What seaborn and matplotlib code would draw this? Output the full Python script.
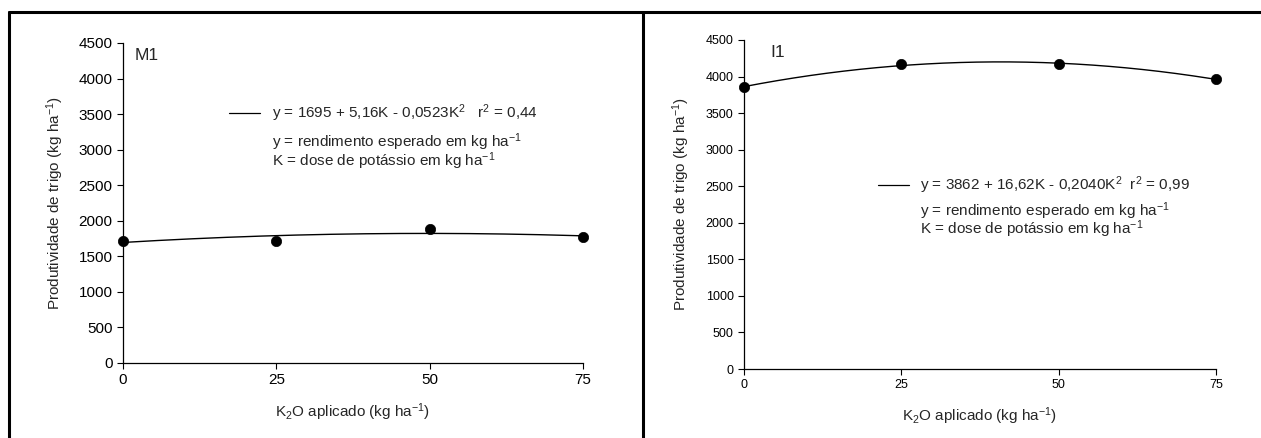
import numpy as np
import pandas as pd
import seaborn as sns
import matplotlib
matplotlib.use("Agg")
import matplotlib.pyplot as plt
from matplotlib.lines import Line2D

# ---- data ----
doses = [0, 25, 50, 75]
yield_m1 = [1720, 1720, 1890, 1770]
yield_i1 = [3860, 4170, 4165, 3970]
coef_m1 = [1695, 5.16, -0.0523]   # y = a + bK + cK^2
coef_i1 = [3862, 16.62, -0.2040]
yticks = [0, 500, 1000, 1500, 2000, 2500, 3000, 3500, 4000, 4500]
xticks = [0, 25, 50, 75]

sns.set_style("ticks")
plt.rcParams['font.family'] = ['Liberation Sans', 'DejaVu Sans']
plt.rcParams['mathtext.fontset'] = 'custom'
plt.rcParams['mathtext.rm'] = 'Liberation Sans'
plt.rcParams['mathtext.it'] = 'Liberation Sans'
plt.rcParams['mathtext.default'] = 'regular'

W, H = 1261, 438
fig = plt.figure(figsize=(W / 100, H / 100), dpi=100)

def px_axes(x0, x1, ytop, ybot):
    return fig.add_axes([x0 / W, 1 - ybot / H, (x1 - x0) / W, (ybot - ytop) / H])

ax1 = px_axes(123, 583, 43, 363)
ax2 = px_axes(744, 1216, 40, 369)

panels = [
    (ax1, yield_m1, coef_m1, "M1", 11, 11,
     "y = 1695 + 5,16K - 0,0523K$^2$   r$^2$ = 0,44",
     (0.230, 0.298), 0.324, [0.781, 0.661], (0.026, 0.9625), 10, 9),
    (ax2, yield_i1, coef_i1, "I1", 9, 11,
     "y = 3862 + 16,62K - 0,2040K$^2$  r$^2$ = 0,99",
     (0.284, 0.350), 0.373, [0.559, 0.453], (0.055, 0.9635), 10, 10),
]

for ax, ys, coef, lab, tfs, lfs, eq, lx, tx, tys, labpos, xlp, ylp in panels:
    df = pd.DataFrame({"K": doses, "Y": ys})
    kk = np.linspace(0, 75, 200)
    fit = pd.DataFrame({"K": kk, "Y": coef[0] + coef[1] * kk + coef[2] * kk ** 2})
    sns.lineplot(data=fit, x="K", y="Y", ax=ax, color="black", lw=1.0)
    sns.scatterplot(data=df, x="K", y="Y", ax=ax, color="black", s=55,
                    edgecolor="black", linewidth=0.5, zorder=5, clip_on=False)
    ax.set_xlim(0, 75)
    ax.set_ylim(0, 4500)
    ax.set_xticks(xticks)
    ax.set_yticks(yticks)
    ax.tick_params(labelsize=tfs, length=4, width=0.8, direction="out", colors="black")
    for s in ["top", "right"]:
        ax.spines[s].set_visible(False)
    for s in ["left", "bottom"]:
        ax.spines[s].set_linewidth(0.9)
        ax.spines[s].set_color("black")
    ax.set_facecolor("white")
    ax.set_xlabel("K$_2$O aplicado (kg ha$^{-1}$)", fontsize=11, labelpad=xlp)
    ax.set_ylabel("Produtividade de trigo (kg ha$^{-1}$)", fontsize=11, labelpad=ylp)
    ax.text(labpos[0], labpos[1], lab, transform=ax.transAxes, fontsize=12.5,
            va="center", ha="left")
    ax.add_line(Line2D(list(lx), [tys[0], tys[0]], transform=ax.transAxes,
                       color="black", lw=0.9))
    ax.text(tx, tys[0], eq, transform=ax.transAxes, fontsize=lfs, va="center", ha="left")
    ax.text(tx, tys[1],
            "y = rendimento esperado em kg ha$^{-1}$\nK = dose de potássio em kg ha$^{-1}$",
            transform=ax.transAxes, fontsize=lfs, va="center", ha="left",
            linespacing=0.8)

# outer frame lines
lw = 2.2
fig.add_artist(Line2D([8.5 / W, 1.0], [1 - 12 / H, 1 - 12 / H], transform=fig.transFigure,
                      color="black", lw=lw))
fig.add_artist(Line2D([8.5 / W, 8.5 / W], [0, 1 - 12 / H], transform=fig.transFigure,
                      color="black", lw=lw))
fig.add_artist(Line2D([643 / W, 643 / W], [0, 1 - 12 / H], transform=fig.transFigure,
                      color="black", lw=lw))

fig.savefig("out.png", dpi=100, facecolor="white")
